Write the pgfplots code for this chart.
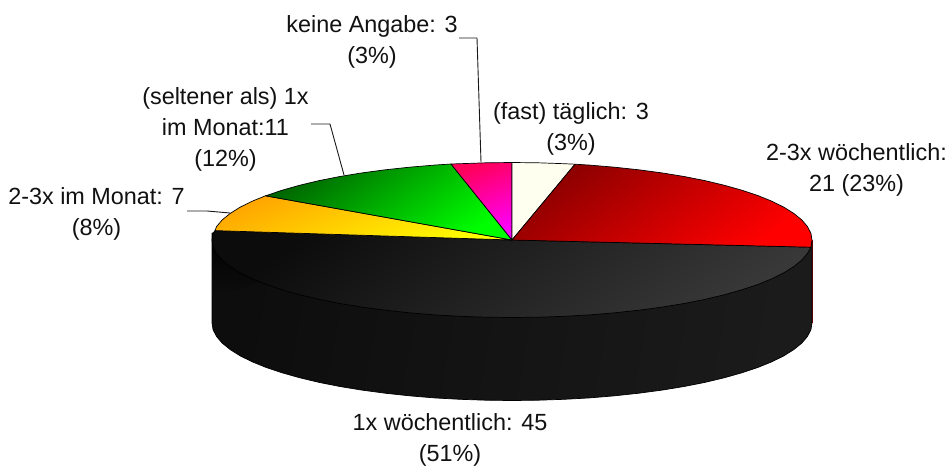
\documentclass[border=0pt]{standalone}
\usepackage{fontspec}
\setmainfont{Liberation Sans}
\usepackage{pgfplots}
\pgfplotsset{compat=1.18}
\definecolor{ivorywedge}{HTML}{FFFFF0}
\definecolor{lab}{HTML}{111111}
\definecolor{sideA}{HTML}{0D0D0D}
\definecolor{sideB}{HTML}{1B1B1B}
\definecolor{topA}{HTML}{0C0C0C}
\definecolor{topB}{HTML}{383838}
\definecolor{amber}{HTML}{FFA500}
\tikzset{lbl/.style={font=\fontsize{23.4}{31}\selectfont, align=center, text=lab, inner sep=0pt}}
\begin{document}
\begin{tikzpicture}
\begin{axis}[
  scale only axis, width=948pt, height=465pt,
  xmin=0, xmax=948, ymin=0, ymax=465, y dir=reverse,
  axis line style={draw=none}, ticks=none, clip=false,
  every axis plot/.append style={line join=round, line width=0.7pt, no markers},
]
% thin red edge behind the side wall
\addplot[draw=red!60!black, line width=0.8pt] coordinates {(812,240)(812,323)};
% side wall of the 1x woechentlich slice
\addplot[draw=black, left color=sideA, right color=sideB, shading angle=80] coordinates {
(812,240)(812,323)(810.9,329.8)(807.4,336.5)(801.8,343.1)(793.9,349.5)(783.9,355.8)(771.8,361.8)(757.7,367.5)(741.8,372.8)(724.1,377.8)(704.8,382.4)(684.1,386.5)(662,390.1)(638.8,393.2)(614.6,395.8)(589.6,397.9)(564.1,399.3)(538.1,400.2)(512,400.5)(485.9,400.2)(459.9,399.3)(434.4,397.9)(409.4,395.8)(385.2,393.2)(362,390.1)(339.9,386.5)(319.2,382.4)(299.9,377.8)(282.2,372.8)(266.3,367.5)(252.2,361.8)(240.1,355.8)(230.1,349.5)(222.2,343.1)(216.6,336.5)(213.1,329.8)(212,323)(212,233)(512,240)(812,240)};
% darkest part of the wall at the far left
\addplot[draw=none, top color=black, bottom color=sideA, shading angle=0] coordinates {
(212,233)(212,296)(235,290)(262,281)(252.2,278.8)(240.1,272.8)(230.1,266.5)(222.2,260.1)(216.6,253.5)(213.1,246.8)(212,240)(212,233)};
% top: 1x woechentlich
\addplot[draw=black, left color=topA, right color=topB, shading angle=35] coordinates {
(512,240)(810.9,247.2)(807.4,253.5)(801.8,260.1)(793.9,266.5)(783.9,272.8)(771.8,278.8)(757.7,284.5)(741.8,289.8)(724.1,294.8)(704.8,299.4)(684.1,303.5)(662,307.1)(638.8,310.2)(614.6,312.8)(589.6,314.9)(564.1,316.3)(538.1,317.2)(512,317.5)(485.9,317.2)(459.9,316.3)(434.4,314.9)(409.4,312.8)(385.2,310.2)(362,307.1)(339.9,303.5)(319.2,299.4)(299.9,294.8)(282.2,289.8)(266.3,284.5)(252.2,278.8)(240.1,272.8)(230.1,266.5)(222.2,260.1)(216.6,253.5)(213.1,246.8)(212,240)(213.1,233.2)(215,230.6)(512,240)};
% 2-3x im Monat
\addplot[draw=black, left color=amber, right color=yellow, shading angle=22] coordinates {
(512,240)(215,230.6)(216.6,226.5)(222.2,219.9)(230.1,213.5)(240.1,207.2)(252.2,201.2)(265.5,195.8)(512,240)};
% (seltener als) 1x im Monat
\addplot[draw=black, left color={rgb,255:red,0;green,100;blue,0}, right color={rgb,255:red,0;green,255;blue,0}, shading angle=35] coordinates {
(512,240)(265.5,195.8)(282.2,190.2)(299.9,185.2)(319.2,180.6)(339.9,176.5)(362,172.9)(385.2,169.8)(409.4,167.2)(434.4,165.1)(451,164)(512,240)};
% keine Angabe
\addplot[draw=black, left color={rgb,255:red,255;green,0;blue,90}, right color={rgb,255:red,255;green,0;blue,255}, shading angle=20] coordinates {
(512,240)(451,164)(459.9,163.7)(485.9,162.8)(512,162.5)(512,240)};
% (fast) taeglich
\addplot[draw=black, fill=ivorywedge] coordinates {
(512,240)(512,162.5)(538.1,162.8)(564.1,163.7)(575,164.2)(512,240)};
% 2-3x woechentlich
\addplot[draw=black, left color={rgb,255:red,139;green,0;blue,0}, right color=red, shading angle=35] coordinates {
(512,240)(575,164.2)(589.6,165.1)(614.6,167.2)(638.8,169.8)(662,172.9)(684.1,176.5)(704.8,180.6)(724.1,185.2)(741.8,190.2)(757.7,195.5)(771.8,201.2)(783.9,207.2)(793.9,213.5)(801.8,219.9)(807.4,226.5)(810.9,233.2)(812,240)(810.9,247.2)(512,240)};
% leader lines
\addplot[draw=black!90, line width=0.9pt] coordinates {(459,38)(477,38)(481,162)};
\addplot[draw=black!90, line width=0.9pt] coordinates {(311,124)(330,124)(344,175)};
\addplot[draw=black!90, line width=0.9pt] coordinates {(187,211)(207,211)(230,213)};
% labels
\node[lbl] at (axis cs:372,42) {keine Angabe: 3\\(3\%)};
\node[lbl] at (axis cs:225.5,129) {(seltener als) 1x\\im Monat:11\\(12\%)};
\node[lbl] at (axis cs:96.5,214) {2-3x im Monat: 7\\(8\%)};
\node[lbl] at (axis cs:571,129) {(fast) täglich: 3\\(3\%)};
\node[lbl] at (axis cs:856.5,170) {2-3x wöchentlich:\\21 (23\%)};
\node[lbl] at (axis cs:450,440) {1x wöchentlich: 45\\(51\%)};
\end{axis}
\end{tikzpicture}
\end{document}
